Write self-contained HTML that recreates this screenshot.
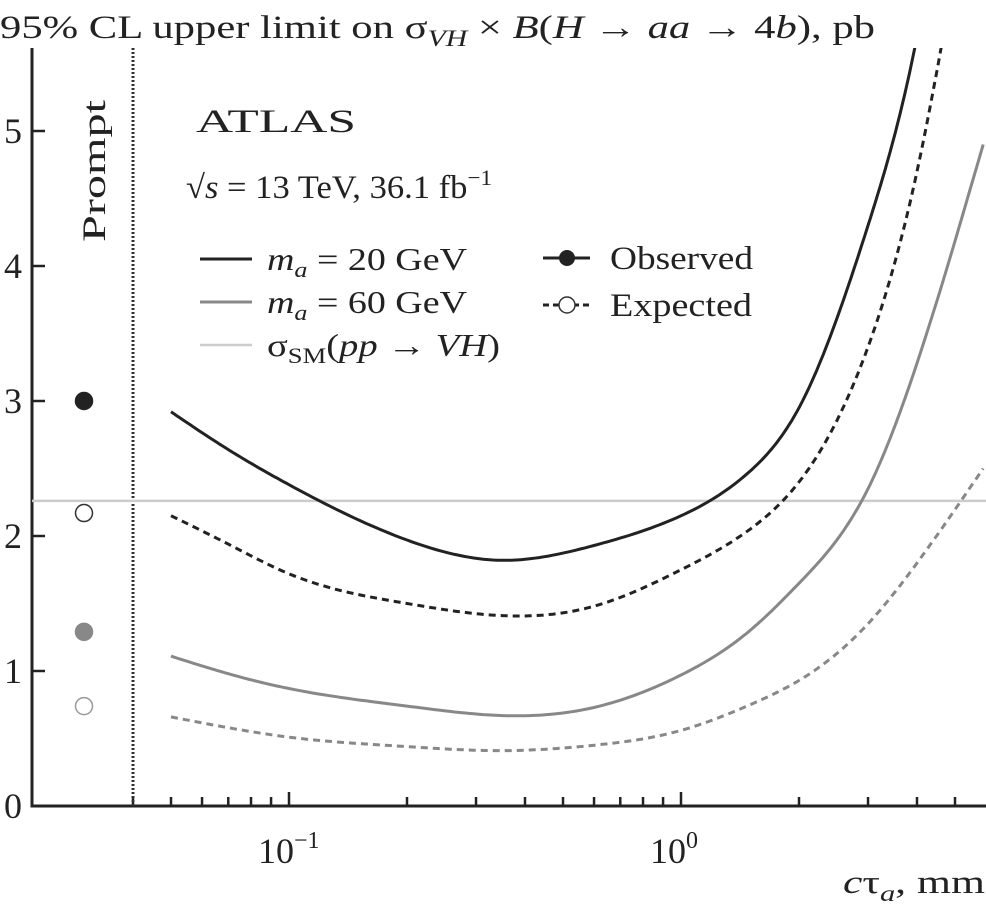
<!DOCTYPE html>
<html><head><meta charset="utf-8"><style>
body{margin:0;background:#fff}
svg{display:block;font-family:"Liberation Serif",serif}
</style></head><body>
<svg id="chart" width="986" height="913" viewBox="0 0 986 913">
<text x="0" y="38" font-size="33" fill="#222" textLength="875" lengthAdjust="spacingAndGlyphs">95% CL upper limit on σ<tspan font-style="italic" font-size="23" dy="8">VH</tspan><tspan dy="-8"> × </tspan><tspan font-style="italic">B</tspan>(<tspan font-style="italic">H</tspan> → <tspan font-style="italic">aa</tspan> → 4<tspan font-style="italic">b</tspan>), pb</text>
<g id="axes"></g>
<g id="marks"></g>
<text x="196" y="132" font-size="33" fill="#222" textLength="160" lengthAdjust="spacingAndGlyphs">ATLAS</text>
<text x="186" y="198" font-size="33" fill="#222" textLength="306" lengthAdjust="spacingAndGlyphs">√<tspan font-style="italic">s</tspan> = 13 TeV, 36.1 fb<tspan font-size="22" dy="-13">−1</tspan></text>
<text transform="translate(105,242) rotate(-90)" font-size="33" fill="#222" textLength="142" lengthAdjust="spacingAndGlyphs">Prompt</text>
<g>
<line x1="200" y1="259" x2="252" y2="259" stroke="#222" stroke-width="3"/>
<text x="267" y="270" font-size="32" fill="#222" textLength="200" lengthAdjust="spacingAndGlyphs"><tspan font-style="italic">m</tspan><tspan font-style="italic" font-size="22" dy="7">a</tspan><tspan dy="-7"> = 20 GeV</tspan></text>
<line x1="200" y1="302" x2="252" y2="302" stroke="#888" stroke-width="3"/>
<text x="267" y="313" font-size="32" fill="#222" textLength="200" lengthAdjust="spacingAndGlyphs"><tspan font-style="italic">m</tspan><tspan font-style="italic" font-size="22" dy="7">a</tspan><tspan dy="-7"> = 60 GeV</tspan></text>
<line x1="200" y1="345" x2="252" y2="345" stroke="#ccc" stroke-width="2.5"/>
<text x="267" y="356" font-size="32" fill="#222" textLength="233" lengthAdjust="spacingAndGlyphs">σ<tspan font-size="22" dy="7">SM</tspan><tspan dy="-7">(</tspan><tspan font-style="italic">pp</tspan> → <tspan font-style="italic">VH</tspan>)</text>
<line x1="543" y1="258" x2="590" y2="258" stroke="#222" stroke-width="3"/>
<circle cx="567" cy="258" r="8" fill="#222"/>
<text x="610" y="269" font-size="33" fill="#222" textLength="143" lengthAdjust="spacingAndGlyphs">Observed</text>
<line x1="543" y1="305" x2="590" y2="305" stroke="#222" stroke-width="3" stroke-dasharray="6,4"/>
<circle cx="567" cy="305" r="8" fill="#fff" stroke="#333" stroke-width="1.5"/>
<text x="610" y="316" font-size="33" fill="#222" textLength="142" lengthAdjust="spacingAndGlyphs">Expected</text>
</g>
<text x="843" y="893" font-size="33" fill="#222" textLength="142" lengthAdjust="spacingAndGlyphs"><tspan font-style="italic">c</tspan>τ<tspan font-style="italic" font-size="23" dy="8">a</tspan><tspan dy="-8">, mm</tspan></text>
</svg>
<script>
const ctau = [0.05, 0.07, 0.1, 0.2, 0.35, 0.6, 1.0, 1.5, 2.0, 3.0, 4.0, 5.9];
const obs20 = [2.92, 2.64, 2.38, 1.97, 1.82, 1.93, 2.15, 2.48, 2.95, 4.3, 5.7, 9.0];
const exp20 = [2.15, 1.94, 1.72, 1.5, 1.41, 1.48, 1.75, 2.05, 2.4, 3.4, 4.7, 7.5];
const obs60 = [1.11, 0.98, 0.87, 0.74, 0.67, 0.73, 0.97, 1.3, 1.65, 2.35, 3.28, 4.9];
const exp60 = [0.66, 0.58, 0.51, 0.44, 0.41, 0.45, 0.56, 0.75, 0.93, 1.35, 1.8, 2.5];
const smXsec = 2.26;
const promptVals = [3.0, 2.17, 1.29, 0.74];
const yTicks = [0, 1, 2, 3, 4, 5];
const xMajor = [0.1, 1];
const xMajorLabels = ["−1", "0"];
const xMinor = [0.04,0.05,0.06,0.07,0.08,0.09,0.2,0.3,0.4,0.5,0.6,0.7,0.8,0.9,2,3,4,5];

const NS = "http://www.w3.org/2000/svg";
const X0 = 32, Y0 = 806, TOP = 48, RIGHT = 986;
function xs(v){ return 681 + 392*Math.log10(v); }
function ys(v){ return Y0 - 135*v; }
function mk(tag, attrs, parent){ const e=document.createElementNS(NS,tag); for(const k in attrs) e.setAttribute(k,attrs[k]); parent.appendChild(e); return e; }
const axes=document.getElementById('axes'), marks=document.getElementById('marks');

const defs=mk('defs',{},marks);
const cp=mk('clipPath',{id:'clip'},defs);
mk('rect',{x:X0,y:TOP,width:RIGHT-X0,height:Y0-TOP},cp);

let a=mk('line',{x1:X0,y1:TOP,x2:X0,y2:Y0+1.5,stroke:'#222','stroke-width':3},axes);


a=mk('line',{x1:X0,y1:Y0,x2:RIGHT,y2:Y0,stroke:'#222','stroke-width':3},axes);


yTicks.forEach(v=>{
  const t=mk('line',{x1:X0,y1:ys(v),x2:X0+13,y2:ys(v),stroke:'#222','stroke-width':2.5},axes);
  
  
  const l=mk('text',{x:X0-10,y:ys(v)+12,'text-anchor':'end','font-size':36,fill:'#222'},axes);
  l.textContent=v;
  
  
});
xMajor.forEach((v,i)=>{
  const t=mk('line',{x1:xs(v),y1:Y0,x2:xs(v),y2:Y0-14,stroke:'#222','stroke-width':2.5},axes);
  
  
  const l=mk('text',{x:xs(v)-31,y:Y0+57,'font-size':36,fill:'#222'},axes);
  l.innerHTML='10<tspan font-size="24" dy="-15">'+xMajorLabels[i]+'</tspan>';
  
  
});
xMinor.forEach(v=>{
  const t=mk('line',{x1:xs(v),y1:Y0,x2:xs(v),y2:Y0-9,stroke:'#222','stroke-width':2.5},axes);
  
  
});

let d=mk('line',{x1:xs(0.04),y1:TOP,x2:xs(0.04),y2:Y0,stroke:'#333','stroke-width':3,'stroke-dasharray':'2,2'},marks);


d=mk('line',{x1:X0,y1:ys(smXsec),x2:RIGHT,y2:ys(smXsec),stroke:'#ccc','stroke-width':2.5},marks);



// natural cubic spline in pixel space
function spline(xv,yv){
  const X=xv.map(xs), Y=yv.map(ys), n=X.length;
  const h=[],al=[],l=[1],mu=[0],z=[0],c=new Array(n).fill(0),b=[],dd=[];
  for(let i=0;i<n-1;i++) h[i]=X[i+1]-X[i];
  for(let i=1;i<n-1;i++) al[i]=3/h[i]*(Y[i+1]-Y[i])-3/h[i-1]*(Y[i]-Y[i-1]);
  for(let i=1;i<n-1;i++){ l[i]=2*(X[i+1]-X[i-1])-h[i-1]*mu[i-1]; mu[i]=h[i]/l[i]; z[i]=(al[i]-h[i-1]*z[i-1])/l[i]; }
  z[n-1]=0;
  for(let j=n-2;j>=0;j--){ c[j]=z[j]-mu[j]*c[j+1]; b[j]=(Y[j+1]-Y[j])/h[j]-h[j]*(c[j+1]+2*c[j])/3; dd[j]=(c[j+1]-c[j])/(3*h[j]); }
  let s='M'+X[0].toFixed(1)+','+Y[0].toFixed(1);
  for(let j=0;j<n-1;j++){
    for(let k=1;k<=20;k++){
      const t=h[j]*k/20;
      s+=' L'+(X[j]+t).toFixed(1)+','+(Y[j]+b[j]*t+c[j]*t*t+dd[j]*t*t*t).toFixed(1);
    }
  }
  return s;
}
const series=[
  [obs20,'#222','none','curve-observed-ma20'],
  [exp20,'#222','7,5','curve-expected-ma20'],
  [obs60,'#888','none','curve-observed-ma60'],
  [exp60,'#888','7,5','curve-expected-ma60']];
series.forEach(s=>{
  const p=mk('path',{d:spline(ctau,s[0]),fill:'none',stroke:s[1],'stroke-width':3,'stroke-dasharray':s[2],'clip-path':'url(#clip)'},marks);
  
  
});
const pStyle=[['#222','#222'],['#fff','#333'],['#888','#888'],['#fff','#999']];
promptVals.forEach((v,i)=>{
  const c=mk('circle',{cx:84,cy:ys(v),r:8.5,fill:pStyle[i][0],stroke:pStyle[i][1],'stroke-width':1.5},marks);
  
  
});
</script>
</body></html>
